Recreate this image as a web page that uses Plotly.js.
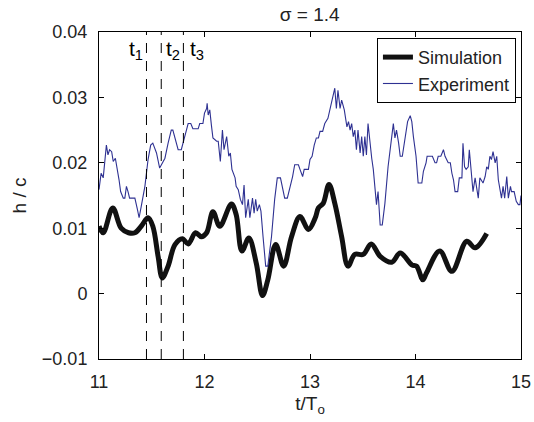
<!DOCTYPE html>
<html>
<head>
<meta charset="utf-8">
<script src="https://cdn.plot.ly/plotly-3.0.1.min.js"></script>
<style>html,body{margin:0;padding:0;background:#fff;}#chart{width:534px;height:422px;}</style>
</head>
<body>
<div id="chart"></div>
<script>
// Simulation (thick black)
const simT = [11.0, 11.04, 11.13, 11.21, 11.28, 11.34, 11.40, 11.465, 11.51, 11.56, 11.60, 11.655, 11.72, 11.79, 11.845, 11.915, 11.97, 12.02, 12.08, 12.145, 12.255, 12.30, 12.355, 12.42, 12.49, 12.55, 12.60, 12.675, 12.75, 12.825, 12.905, 12.985, 13.05, 13.08, 13.125, 13.18, 13.235, 13.30, 13.36, 13.425, 13.505, 13.58, 13.665, 13.775, 13.855, 13.965, 14.01, 14.07, 14.105, 14.23, 14.345, 14.485, 14.565, 14.675];
const simH = [0.0103, 0.0093, 0.0131, 0.0100, 0.0093, 0.0093, 0.0103, 0.0116, 0.0103, 0.0057, 0.0024, 0.0042, 0.0075, 0.0084, 0.0076, 0.0093, 0.0087, 0.0093, 0.0125, 0.0103, 0.0137, 0.0121, 0.0065, 0.0085, 0.0047, -0.0003, 0.0021, 0.0075, 0.0042, 0.0087, 0.0118, 0.0098, 0.0116, 0.0131, 0.0138, 0.0167, 0.0138, 0.0087, 0.0042, 0.0060, 0.0060, 0.0076, 0.0057, 0.0048, 0.0062, 0.0044, 0.0042, 0.0021, 0.0032, 0.0065, 0.0034, 0.0080, 0.0070, 0.0092];

// Experiment (thin blue)
const expT = [11.00, 11.02, 11.04, 11.05, 11.07, 11.085, 11.10, 11.12, 11.135, 11.155, 11.175, 11.19, 11.205, 11.23, 11.245, 11.26, 11.275, 11.29, 11.31, 11.34, 11.365, 11.38, 11.40, 11.435, 11.465, 11.49, 11.51, 11.545, 11.575, 11.59, 11.625, 11.655, 11.685, 11.70, 11.735, 11.75, 11.78, 11.81, 11.83, 11.845, 11.87, 11.89, 11.94, 11.955, 11.985, 12.00, 12.02, 12.025, 12.035, 12.05, 12.065, 12.08, 12.115, 12.13, 12.15, 12.17, 12.185, 12.21, 12.23, 12.245, 12.26, 12.29, 12.30, 12.32, 12.34, 12.36, 12.375, 12.39, 12.415, 12.43, 12.455, 12.47, 12.485, 12.50, 12.52, 12.535, 12.555, 12.58, 12.60, 12.635, 12.665, 12.69, 12.72, 12.745, 12.76, 12.785, 12.81, 12.835, 12.855, 12.89, 12.905, 12.93, 12.945, 12.985, 13.00, 13.02, 13.04, 13.06, 13.08, 13.095, 13.12, 13.14, 13.17, 13.19, 13.205, 13.22, 13.235, 13.25, 13.265, 13.285, 13.30, 13.325, 13.35, 13.365, 13.38, 13.395, 13.41, 13.425, 13.44, 13.455, 13.475, 13.49, 13.505, 13.52, 13.535, 13.55, 13.57, 13.585, 13.60, 13.615, 13.63, 13.645, 13.665, 13.685, 13.71, 13.74, 13.77, 13.79, 13.805, 13.82, 13.84, 13.855, 13.875, 13.90, 13.925, 13.95, 13.965, 13.98, 13.995, 14.005, 14.025, 14.06, 14.075, 14.10, 14.11, 14.16, 14.185, 14.20, 14.215, 14.24, 14.265, 14.28, 14.31, 14.33, 14.345, 14.36, 14.375, 14.40, 14.415, 14.44, 14.45, 14.465, 14.48, 14.50, 14.51, 14.525, 14.545, 14.565, 14.58, 14.595, 14.61, 14.64, 14.66, 14.675, 14.69, 14.705, 14.72, 14.735, 14.755, 14.77, 14.785, 14.80, 14.815, 14.83, 14.845, 14.865, 14.88, 14.90, 14.91, 14.935, 14.955, 14.975, 14.99, 15.00];
const expH = [0.0159, 0.0184, 0.0177, 0.0194, 0.0227, 0.0212, 0.0220, 0.0217, 0.0202, 0.0207, 0.0190, 0.0174, 0.0156, 0.0146, 0.0146, 0.0164, 0.0156, 0.0146, 0.0146, 0.0146, 0.0128, 0.0116, 0.0133, 0.0164, 0.0205, 0.0227, 0.0230, 0.0215, 0.0192, 0.0197, 0.0207, 0.0230, 0.0250, 0.0250, 0.0227, 0.0220, 0.0220, 0.0238, 0.0248, 0.0260, 0.0260, 0.0252, 0.0252, 0.0260, 0.0260, 0.0276, 0.0283, 0.0291, 0.0273, 0.0281, 0.0258, 0.0238, 0.0233, 0.0233, 0.0202, 0.0250, 0.0220, 0.0240, 0.0210, 0.0215, 0.0190, 0.0177, 0.0164, 0.0159, 0.0144, 0.0136, 0.0166, 0.0116, 0.0144, 0.0116, 0.0146, 0.0123, 0.0144, 0.0126, 0.0136, 0.0126, 0.0087, 0.0042, 0.0042, 0.0087, 0.0144, 0.0177, 0.0177, 0.0159, 0.0146, 0.0146, 0.0161, 0.0179, 0.0197, 0.0197, 0.0190, 0.0179, 0.0190, 0.0190, 0.0205, 0.0210, 0.0227, 0.0238, 0.0238, 0.0248, 0.0248, 0.0260, 0.0268, 0.0281, 0.0291, 0.0304, 0.0314, 0.0283, 0.0311, 0.0283, 0.0296, 0.0281, 0.0255, 0.0263, 0.0250, 0.0260, 0.0240, 0.0250, 0.0220, 0.0250, 0.0215, 0.0240, 0.0210, 0.0240, 0.0212, 0.0260, 0.0225, 0.0207, 0.0190, 0.0164, 0.0136, 0.0156, 0.0105, 0.0105, 0.0138, 0.0194, 0.0230, 0.0260, 0.0238, 0.0250, 0.0230, 0.0210, 0.0210, 0.0240, 0.0263, 0.0272, 0.0263, 0.0240, 0.0225, 0.0210, 0.0169, 0.0169, 0.0187, 0.0200, 0.0210, 0.0210, 0.0200, 0.0200, 0.0210, 0.0210, 0.0220, 0.0210, 0.0200, 0.0200, 0.0184, 0.0174, 0.0156, 0.0156, 0.0177, 0.0177, 0.0230, 0.0194, 0.0190, 0.0194, 0.0220, 0.0194, 0.0156, 0.0177, 0.0161, 0.0146, 0.0177, 0.0169, 0.0179, 0.0194, 0.0190, 0.0210, 0.0205, 0.0217, 0.0200, 0.0210, 0.0174, 0.0156, 0.0146, 0.0164, 0.0146, 0.0179, 0.0146, 0.0164, 0.0156, 0.0156, 0.0141, 0.0136, 0.0136, 0.0150];

// Marked instants
const markT = [11.45, 11.59, 11.8];
const markLabels = ['t<sub>1</sub>', 't<sub>2</sub>', 't<sub>3</sub>'];
const markAnchor = ['right', 'left', 'left'];
const markShift = [-1, 3, 5];

const xTicks = [11, 12, 13, 14, 15];
const yTicks = [-0.01, 0, 0.01, 0.02, 0.03, 0.04];
const yTickText = ['\u22120.01', '0', '0.01', '0.02', '0.03', '0.04'];

const FONT = 'Liberation Sans, Arial, Helvetica, sans-serif';

const traces = [
  {x: simT, y: simH, type: 'scatter', mode: 'lines', name: 'Simulation',
   line: {color: '#111111', width: 5, shape: 'spline', smoothing: 1}},
  {x: expT, y: expH, type: 'scatter', mode: 'lines', name: 'Experiment',
   line: {color: '#2e3192', width: 1.1}}
];

const shapes = markT.map(t => ({
  type: 'line', xref: 'x', yref: 'paper', x0: t, x1: t, y0: 0, y1: 1,
  line: {color: '#000', width: 1, dash: '10px,8px'}
}));

const annotations = markT.map((t, i) => ({
  x: t, xref: 'x', y: 0.945, yref: 'paper', text: markLabels[i],
  showarrow: false, xanchor: markAnchor[i], yanchor: 'middle', xshift: markShift[i],
  font: {family: FONT, size: 21, color: '#000'}
}));

const axisCommon = {
  showline: true, linecolor: '#000', linewidth: 1, mirror: 'ticks',
  ticks: 'inside', ticklen: 5, tickcolor: '#000', showgrid: false, zeroline: false,
  tickfont: {family: FONT, size: 18, color: '#222'}
};

const layout = {
  width: 534, height: 422,
  margin: {l: 99, r: 13, t: 32, b: 63},
  paper_bgcolor: '#fff', plot_bgcolor: '#fff',
  font: {family: FONT, color: '#222'},
  title: {text: '\u03c3 = 1.4', font: {family: FONT, size: 19, color: '#222'}, x: 0.58, xanchor: 'center', y: 0.965, yanchor: 'middle'},
  showlegend: true,
  legend: {x: 0.988, xanchor: 'right', y: 0.982, yanchor: 'top', bgcolor: '#fff',
           bordercolor: '#000', borderwidth: 1, font: {family: FONT, size: 18, color: '#222'},
           tracegroupgap: 0},
  xaxis: Object.assign({}, axisCommon, {
    range: [11, 15], tickvals: xTicks, ticktext: xTicks.map(String), ticklabelstandoff: 6,
    title: {text: 't/T<sub>o</sub>', font: {family: FONT, size: 19, color: '#222'}, standoff: 6}
  }),
  yaxis: Object.assign({}, axisCommon, {
    range: [-0.01, 0.04], tickvals: yTicks, ticktext: yTickText, ticklabelstandoff: 7,
    title: {text: 'h / c', font: {family: FONT, size: 19, color: '#222'}, standoff: 10}
  }),
  shapes: shapes,
  annotations: annotations
};

Plotly.newPlot('chart', traces, layout, {displayModeBar: false, staticPlot: true});
</script>
</body>
</html>
